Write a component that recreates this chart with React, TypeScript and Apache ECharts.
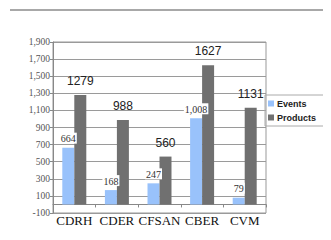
import React, { useEffect, useRef } from "react";
import * as echarts from "echarts";

const categories = ["CDRH", "CDER", "CFSAN", "CBER", "CVM"];
const events = [664, 168, 247, 1008, 79];
const products = [1279, 988, 560, 1627, 1131];
const yMin = -100;
const yMax = 1900;
const yStep = 200;

export default function App() {
  const ref = useRef<HTMLDivElement>(null);
  useEffect(() => {
    if (!ref.current) return;
    const chart = echarts.init(ref.current, null, { renderer: "svg" });
    chart.setOption({
      animation: false,
      backgroundColor: "#ffffff",
      graphic: [
        {
          type: "line",
          shape: { x1: 10, y1: 10, x2: 331, y2: 10 },
          style: { stroke: "#a8a8a8", lineWidth: 2 },
        },
      ],
      grid: {
        left: 53,
        top: 42,
        right: 65,
        bottom: 27,
        show: true,
        borderColor: "#999",
        borderWidth: 1,
      },
      legend: {
        orient: "vertical",
        left: 265,
        top: 95,
        padding: [4, 20, 4, 3],
        borderColor: "#aaa",
        borderWidth: 1,
        itemWidth: 6,
        itemHeight: 6,
        itemGap: 5,
        icon: "rect",
        textStyle: {
          fontFamily: "Liberation Sans, Arial, sans-serif",
          fontWeight: "bold",
          fontSize: 9,
          color: "#222",
          padding: [0, 0, 0, -2],
        },
        data: ["Events", "Products"],
      },
      xAxis: {
        type: "category",
        data: categories,
        axisLine: { onZero: true, lineStyle: { color: "#888", width: 1 } },
        axisTick: { show: true, length: 3, lineStyle: { color: "#888" } },
        axisLabel: {
          interval: 0,
          fontFamily: "Liberation Serif, Times New Roman, serif",
          fontSize: 13,
          color: "#111",
          margin: 1,
        },
      },
      yAxis: {
        type: "value",
        min: yMin,
        max: yMax,
        interval: yStep,
        axisLine: { show: true, lineStyle: { color: "#888" } },
        axisTick: { show: true, length: 3, lineStyle: { color: "#888" } },
        splitLine: { show: true, lineStyle: { color: "#9a9a9a", width: 1 } },
        axisLabel: {
          fontFamily: "Liberation Serif, Times New Roman, serif",
          fontSize: 9.5,
          color: "#555",
          margin: 3,
          formatter: (v: number) => v.toLocaleString("en-US"),
        },
      },
      series: [
        {
          name: "Events",
          type: "bar",
          data: events,
          barWidth: 12,
          barGap: "0%",
          itemStyle: { color: "#99c2fb" },
          label: {
            show: true,
            position: "top",
            distance: 4,
            fontFamily: "Liberation Serif, Times New Roman, serif",
            fontSize: 10,
            color: "#333",
            backgroundColor: "#fff",
            padding: [1, 1, 0, 1],
            formatter: (p: any) => Number(p.value).toLocaleString("en-US"),
          },
        },
        {
          name: "Products",
          type: "bar",
          data: products,
          barWidth: 12,
          itemStyle: { color: "#707070" },
          label: {
            show: true,
            position: "top",
            distance: 8,
            fontFamily: "Liberation Sans, Arial, sans-serif",
            fontSize: 12,
            color: "#222",
          },
        },
      ],
    });
    return () => chart.dispose();
  }, []);
  return <div ref={ref} style={{ width: 331, height: 240, margin: -8 }} />;
}
